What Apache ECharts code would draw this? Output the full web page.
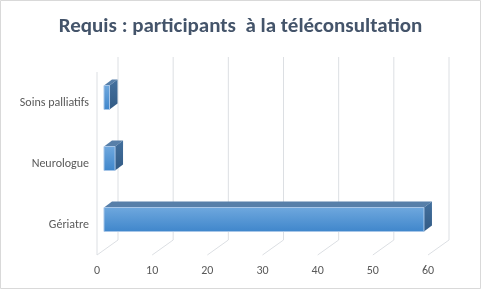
<!DOCTYPE html>
<html><head><meta charset="utf-8">
<script src="https://cdn.jsdelivr.net/npm/echarts@6/dist/echarts.min.js"></script>
<style>html,body{margin:0;padding:0;background:#fff}#c{width:481px;height:289px}</style>
</head><body><div id="c"></div>
<script>
var titleText = 'Requis : participants  à la téléconsultation';
var categories = ['Gériatre', 'Neurologue', 'Soins palliatifs'];
var values = [58, 2, 1];
var xTicks = [0, 10, 20, 30, 40, 50, 60];

var BACK = [21, -15];   // floor depth offset
var BAR_OFF = [7, -5];  // bar front plane offset
var BAR_D = [8, -6];    // bar depth
var BAR_H = 24;

var chart = echarts.init(document.getElementById('c'), null, {renderer: 'canvas'});
var font = "'Carlito','Open Sans',sans-serif";

chart.setOption({
  animation: false,
  title: {
    text: titleText, left: 'center', top: 11,
    textStyle: {fontFamily: font, fontSize: 21, fontWeight: 'bold', color: '#44546a'}
  },
  graphic: [{type: 'rect', shape: {x: 0.5, y: 0.5, width: 480, height: 288},
    style: {fill: 'none', stroke: '#d9d9d9', lineWidth: 1}, silent: true}],
  grid: {left: 97, right: 53, top: 72, bottom: 34},
  xAxis: {
    type: 'value', min: 0, max: 60, interval: 10,
    axisLine: {show: false}, axisTick: {show: false}, splitLine: {show: false},
    axisLabel: {color: '#595959', fontSize: 12, fontFamily: font, margin: 10}
  },
  yAxis: {
    type: 'category', data: categories,
    axisLine: {show: false}, axisTick: {show: false}, splitLine: {show: false},
    axisLabel: {color: '#595959', fontSize: 12, fontFamily: font, margin: 8}
  },
  series: [
    {
      type: 'custom', silent: true, z: 1,
      data: xTicks.map(function (t) { return [t, 0]; }),
      renderItem: function (params, api) {
        var cs = params.coordSys;
        var x = api.coord([api.value(0), 0])[0];
        var bottom = cs.y + cs.height, top = cs.y;
        var st = {stroke: '#dcdfe3', lineWidth: 1};
        var children = [
          {type: 'line', shape: {x1: x, y1: bottom, x2: x + BACK[0], y2: bottom + BACK[1]}, style: st},
          {type: 'line', shape: {x1: x + BACK[0], y1: bottom + BACK[1], x2: x + BACK[0], y2: top + BACK[1]}, style: st}
        ];
        if (params.dataIndex === 0) {
          children.push({type: 'line', shape: {x1: x, y1: top, x2: x, y2: bottom}, style: st});
        }
        return {type: 'group', children: children};
      }
    },
    {
      type: 'custom', silent: true, z: 3,
      data: values.map(function (v, i) { return [v, i]; }),
      encode: {x: 0, y: 1},
      renderItem: function (params, api) {
        var p0 = api.coord([0, api.value(1)]);
        var p1 = api.coord([api.value(0), api.value(1)]);
        var x0 = p0[0] + BAR_OFF[0], x1 = p1[0] + BAR_OFF[0];
        var yc = p0[1] + BAR_OFF[1];
        var yt = yc - BAR_H / 2, yb = yc + BAR_H / 2;
        var dx = BAR_D[0], dy = BAR_D[1];
        return {type: 'group', children: [
          {type: 'polygon', shape: {points: [[x0, yt], [x1, yt], [x1 + dx, yt + dy], [x0 + dx, yt + dy]]},
            style: {fill: '#577fa9'}},
          {type: 'polygon', shape: {points: [[x1, yt], [x1 + dx, yt + dy], [x1 + dx, yb + dy], [x1, yb]]},
            style: {fill: new echarts.graphic.LinearGradient(0, 0, 0, 1, [
              {offset: 0, color: '#43709e'}, {offset: 1, color: '#335b85'}])}},
          {type: 'rect', shape: {x: x0, y: yt, width: x1 - x0, height: BAR_H},
            style: {fill: new echarts.graphic.LinearGradient(0, 0, 0, 1, [
              {offset: 0, color: '#6fa8de'}, {offset: 1, color: '#3f86cb'}]),
              stroke: '#a7c6e8', lineWidth: 1}}
        ]};
      }
    }
  ]
});
</script></body></html>
